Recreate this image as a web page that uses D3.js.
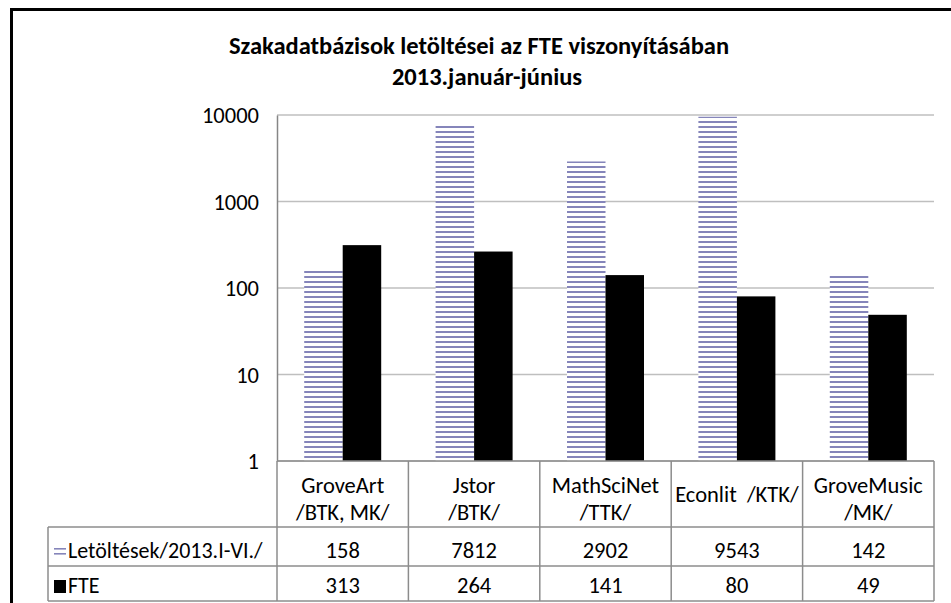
<!DOCTYPE html>
<html>
<head>
<meta charset="utf-8">
<script src="https://cdn.jsdelivr.net/npm/d3@7.9.0/dist/d3.min.js"></script>
<style>
  html, body { margin: 0; background: #fff; overflow: hidden; }
  svg { display: block; }
  svg text { font-family: Carlito, Calibri, 'Open Sans', sans-serif; fill: #000; }
</style>
</head>
<body>
<svg id="chart" width="951" height="603"></svg>
<script>
// Data
const categories = ['GroveArt|/BTK, MK/', 'Jstor|/BTK/', 'MathSciNet|/TTK/', 'Econlit  /KTK/', 'GroveMusic|/MK/'];
const seriesNames = ['Letöltések/2013.I-VI./', 'FTE'];
const downloads = [158, 7812, 2902, 9543, 142];
const fte = [313, 264, 141, 80, 49];
const yTicks = [1, 10, 100, 1000, 10000];
const titleLines = ['Szakadatbázisok letöltései az FTE viszonyításában', '2013.január-június'];

const values = [downloads, fte];

const svg = d3.select('#chart');

// Layout
const plot = { left: 277, right: 934, top: 115, bottom: 461 };
const table = { left: 48, catBottom: 527, row1Bottom: 566, row2Bottom: 601 };
const fontSize = 22.5;

// Stripe pattern for first series
const defs = svg.append('defs');
const pat = defs.append('pattern')
  .attr('id', 'stripes')
  .attr('patternUnits', 'userSpaceOnUse')
  .attr('width', 10)
  .attr('height', 5);
pat.append('rect').attr('width', 10).attr('height', 5).attr('fill', '#fff');
pat.append('rect').attr('y', 1).attr('width', 10).attr('height', 2).attr('fill', '#8585ba');

const keyPat = defs.append('pattern')
  .attr('id', 'keystripes')
  .attr('patternUnits', 'userSpaceOnUse')
  .attr('x', 0).attr('y', 546)
  .attr('width', 10)
  .attr('height', 5);
keyPat.append('rect').attr('width', 10).attr('height', 5).attr('fill', '#fff');
keyPat.append('rect').attr('y', 2).attr('width', 10).attr('height', 1.6).attr('fill', '#8585ba');

const fills = ['url(#stripes)', '#000'];

// Outer chart border
svg.append('rect')
  .attr('x', 11.5).attr('y', 9.5)
  .attr('width', 980).attr('height', 640)
  .attr('fill', 'none')
  .attr('stroke', '#000')
  .attr('stroke-width', 3);

// Title
svg.append('text')
  .attr('x', 479).attr('y', 54)
  .attr('text-anchor', 'middle')
  .attr('font-size', 24.5)
  .attr('font-weight', 'bold')
  .text(titleLines[0]);
svg.append('text')
  .attr('x', 487).attr('y', 85)
  .attr('text-anchor', 'middle')
  .attr('font-size', 24.5)
  .attr('font-weight', 'bold')
  .text(titleLines[1]);

// Scales
const y = d3.scaleLog().domain([1, 10000]).range([plot.bottom, plot.top]);
const x = d3.scaleBand().domain(categories).range([plot.left, plot.right]);
const xInner = d3.scaleBand()
  .domain(seriesNames)
  .range([27.2, x.bandwidth() - 27.2]);

// Gridlines
svg.append('g')
  .selectAll('line')
  .data(yTicks)
  .join('line')
  .attr('x1', plot.left).attr('x2', plot.right)
  .attr('y1', d => y(d)).attr('y2', d => y(d))
  .attr('stroke', '#bfbfbf')
  .attr('stroke-width', 1.5);

// Y axis
const yAxis = d3.axisLeft(y)
  .tickValues(yTicks)
  .tickFormat(d3.format('d'))
  .tickSize(0)
  .tickPadding(18);
const yg = svg.append('g')
  .attr('transform', `translate(${plot.left},0)`)
  .call(yAxis);
yg.select('.domain').attr('stroke', '#868686').attr('stroke-width', 1.5);
yg.selectAll('text')
  .attr('font-size', fontSize)
  .attr('font-family', "Carlito, Calibri, 'Open Sans', sans-serif")
  .attr('fill', '#000')
  .attr('dy', '0.34em');

// Bars
seriesNames.forEach((s, si) => {
  svg.append('g')
    .selectAll('rect')
    .data(values[si])
    .join('rect')
    .attr('x', (d, i) => x(categories[i]) + xInner(s))
    .attr('y', d => y(d))
    .attr('width', xInner.bandwidth())
    .attr('height', d => y(1) - y(d))
    .attr('fill', fills[si]);
});

// Data table
const grid = svg.append('g').attr('stroke', '#8c8c8c').attr('stroke-width', 1.5);
grid.append('line')
  .attr('x1', plot.left).attr('x2', plot.right)
  .attr('y1', plot.bottom).attr('y2', plot.bottom);
[table.catBottom, table.row1Bottom, table.row2Bottom].forEach(yy => {
  grid.append('line')
    .attr('x1', table.left).attr('x2', plot.right)
    .attr('y1', yy).attr('y2', yy);
});
grid.append('line')
  .attr('x1', table.left).attr('x2', table.left)
  .attr('y1', table.catBottom).attr('y2', table.row2Bottom);
categories.concat(['end']).forEach((c, i) => {
  const xx = i < categories.length ? x(c) : plot.right;
  grid.append('line')
    .attr('x1', xx).attr('x2', xx)
    .attr('y1', plot.bottom).attr('y2', table.row2Bottom);
});

// Category labels
categories.forEach(c => {
  const lines = c.split('|');
  const cx = x(c) + x.bandwidth() / 2;
  const t = svg.append('text')
    .attr('text-anchor', 'middle')
    .attr('font-size', fontSize);
  if (lines.length === 2) {
    t.append('tspan').attr('x', cx).attr('y', 493).text(lines[0]);
    t.append('tspan').attr('x', cx).attr('y', 520).text(lines[1]);
  } else {
    t.attr('xml:space', 'preserve');
    t.append('tspan').attr('x', cx).attr('y', 502).text(lines[0]);
  }
});

// Series rows
const rowBase = [558, 593];
seriesNames.forEach((s, si) => {
  svg.append('rect')
    .attr('x', 54).attr('y', rowBase[si] - 13)
    .attr('width', 12).attr('height', 13)
    .attr('fill', si === 0 ? 'url(#keystripes)' : '#000');
  svg.append('text')
    .attr('x', 68).attr('y', rowBase[si])
    .attr('font-size', 22)
    .text(s);
  svg.append('g')
    .selectAll('text')
    .data(values[si])
    .join('text')
    .attr('x', (d, i) => x(categories[i]) + x.bandwidth() / 2)
    .attr('y', rowBase[si])
    .attr('text-anchor', 'middle')
    .attr('font-size', fontSize)
    .text(d => d);
});
</script>
</body>
</html>
